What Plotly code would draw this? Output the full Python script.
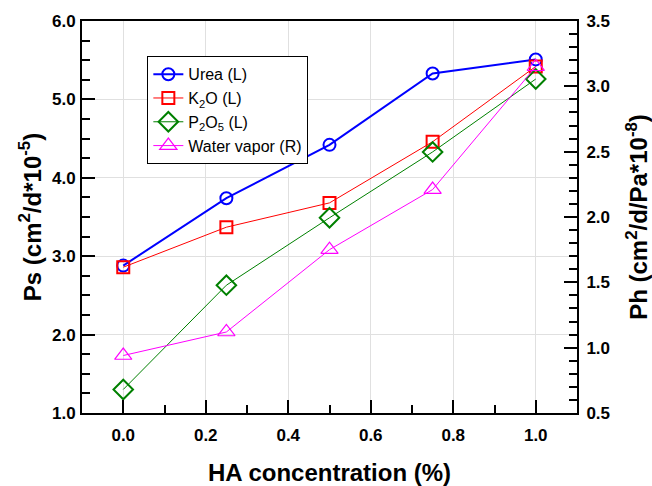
import plotly.graph_objects as go

ha = [0.0, 0.25, 0.5, 0.75, 1.0]
urea = [2.88, 3.74, 4.42, 5.33, 5.51]
k2o = [2.86, 3.37, 3.68, 4.46, 5.42]
p2o5 = [1.30, 2.63, 3.49, 4.33, 5.26]
water = [0.94, 1.12, 1.75, 2.21, 3.15]

fig = go.Figure()
fig.add_trace(go.Scatter(x=ha, y=urea, name="Urea (L)", mode="lines+markers",
                         line=dict(color="#0000ff", width=2),
                         marker=dict(symbol="circle-open", size=12, color="#0000ff", line=dict(width=2))))
fig.add_trace(go.Scatter(x=ha, y=k2o, name="K<sub>2</sub>O (L)", mode="lines+markers",
                         line=dict(color="#ff0000", width=1),
                         marker=dict(symbol="square-open", size=12, color="#ff0000", line=dict(width=2))))
fig.add_trace(go.Scatter(x=ha, y=p2o5, name="P<sub>2</sub>O<sub>5</sub> (L)", mode="lines+markers",
                         line=dict(color="#008000", width=1),
                         marker=dict(symbol="diamond-open", size=15, color="#008000", line=dict(width=2))))
fig.add_trace(go.Scatter(x=ha, y=water, name="Water vapor (R)", mode="lines+markers", yaxis="y2",
                         line=dict(color="#ff00ff", width=1),
                         marker=dict(symbol="triangle-up-open", size=15, color="#ff00ff", line=dict(width=1.2))))

tickfont = dict(family="Liberation Sans, Arial", size=17, color="black", weight="bold")
titlefont = dict(family="Liberation Sans, Arial", size=24, color="black", weight="bold")

fig.update_layout(
    width=652, height=486,
    margin=dict(l=82, r=75, t=21, b=73),
    paper_bgcolor="white", plot_bgcolor="white",
    showlegend=True,
    legend=dict(x=0.132, y=0.91, xanchor="left", yanchor="top",
                bordercolor="black", borderwidth=1, bgcolor="white",
                font=dict(family="Liberation Sans, Arial", size=16, color="black"),
                tracegroupgap=0, itemwidth=30),
    xaxis=dict(range=[-0.1, 1.1], dtick=0.2, tick0=0, tickformat=".1f", automargin=False,
               showline=True, linecolor="black", linewidth=2, mirror=True,
               ticks="inside", ticklen=13, tickwidth=2, tickcolor="black",
               minor=dict(dtick=0.1, ticks="inside", ticklen=8, tickwidth=2, tickcolor="black", showgrid=False),
               showgrid=True, gridcolor="#e0e0e0", gridwidth=1, zeroline=False,
               tickfont=tickfont, ticklabelstandoff=6,
               title=dict(text="HA concentration (%)", font=titlefont, standoff=26)),
    yaxis=dict(range=[1.0, 6.0], dtick=1.0, tickformat=".1f", automargin=False,
               showline=True, linecolor="black", linewidth=2,
               ticks="inside", ticklen=13, tickwidth=2, tickcolor="black",
               minor=dict(dtick=0.25, ticks="inside", ticklen=8, tickwidth=2, tickcolor="black", showgrid=False),
               showgrid=True, gridcolor="#e0e0e0", gridwidth=1, zeroline=False,
               tickfont=tickfont, ticklabelstandoff=1,
               title=dict(text="Ps (cm<sup>2</sup>/d*10<sup>-5</sup>)", font=titlefont, standoff=4)),
    yaxis2=dict(range=[0.5, 3.5], dtick=0.5, tickformat=".1f", overlaying="y", side="right", automargin=False,
                showline=True, linecolor="black", linewidth=2,
                ticks="inside", ticklen=13, tickwidth=2, tickcolor="black",
                minor=dict(dtick=0.1, ticks="inside", ticklen=8, tickwidth=2, tickcolor="black", showgrid=False),
                showgrid=False, zeroline=False,
                tickfont=tickfont, ticklabelstandoff=4,
                title=dict(text="Ph (cm<sup>2</sup>/d/Pa*10<sup>-8</sup>)", font=titlefont, standoff=22)),
)

fig.write_html("out.html")
